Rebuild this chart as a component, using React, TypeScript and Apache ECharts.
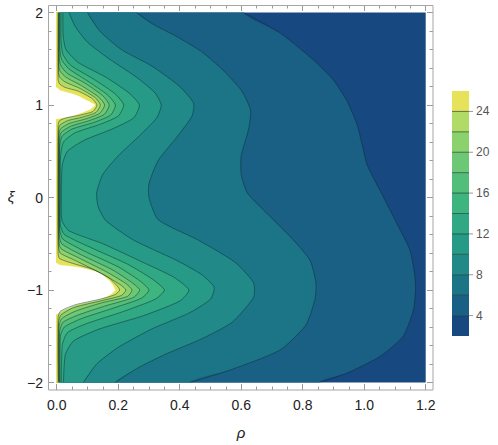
import React, { useEffect, useRef } from "react";
import * as echarts from "echarts";

// contour levels and band colours (band i lies between level i-1 and level i; band 0 = 2..4)
const levels = [4, 6, 8, 10, 12, 14, 16, 18, 20, 22, 24, 26];
const bandColors = [
  "#17487f", "#1a5f84", "#1c7587", "#218a89", "#279a87", "#30a884",
  "#3eb47f", "#52be7a", "#6cc874", "#8bd16c", "#b0db66", "#e6e35a",
];
const aboveColor = "#ffffff";
const legendTicks = [4, 8, 12, 16, 20, 24];

// contour lines as [rho, xi] points
const contour4 = [[0.607,2],[0.726,1.78],[0.834,1.49],[0.90,1.27],[0.943,1.05],[0.976,0.8],[0.995,0.55],[1.01,0.35],[1.051,0.08],[1.106,-0.28],[1.149,-0.57],[1.165,-0.85],[1.167,-1.0],[1.16,-1.22],[1.127,-1.5],[1.051,-1.72],[0.943,-1.9],[0.854,-2]];
const contour6 = [[0.26,2],[0.31,1.88],[0.39,1.74],[0.47,1.58],[0.54,1.38],[0.60,1.16],[0.63,0.95],[0.625,0.75],[0.60,0.45],[0.60,0.25],[0.62,0.05],[0.683,-0.17],[0.77,-0.46],[0.824,-0.68],[0.843,-0.92],[0.84,-1.1],[0.81,-1.38],[0.726,-1.65],[0.564,-1.865],[0.433,-2]];
const contour8 = [[0.10,2],[0.14,1.8],[0.21,1.6],[0.31,1.42],[0.40,1.2],[0.445,1.02],[0.44,0.88],[0.39,0.65],[0.33,0.4],[0.30,0.15],[0.30,0],[0.33,-0.24],[0.46,-0.46],[0.58,-0.7],[0.64,-0.92],[0.64,-1.08],[0.57,-1.35],[0.47,-1.53],[0.35,-1.7],[0.26,-1.85],[0.19,-2]];
const contour10 = [[0.04,2],[0.06,1.85],[0.1,1.68],[0.17,1.5],[0.26,1.3],[0.32,1.13],[0.34,1.0],[0.325,0.86],[0.27,0.67],[0.2,0.45],[0.15,0.25],[0.13,0.05],[0.135,-0.1],[0.16,-0.25],[0.25,-0.46],[0.39,-0.68],[0.47,-0.83],[0.512,-0.97],[0.5,-1.1],[0.43,-1.25],[0.31,-1.42],[0.2,-1.62],[0.13,-1.8],[0.087,-2]];
const contour12 = [[0.02,2],[0.021,1.75],[0.03,1.6],[0.07,1.46],[0.16,1.3],[0.235,1.13],[0.269,1.0],[0.25,0.86],[0.18,0.74],[0.09,0.62],[0.035,0.5],[0.018,0.35],[0.015,0],[0.017,-0.25],[0.04,-0.36],[0.15,-0.5],[0.28,-0.7],[0.38,-0.86],[0.43,-1.0],[0.4,-1.12],[0.28,-1.28],[0.14,-1.42],[0.055,-1.55],[0.028,-1.7],[0.022,-2]];
const contour14 = [[0.014,2],[0.014,1.7],[0.02,1.55],[0.045,1.43],[0.12,1.28],[0.19,1.12],[0.218,1.0],[0.20,0.88],[0.14,0.79],[0.06,0.7],[0.022,0.6],[0.0125,0.45],[0.0115,0],[0.012,-0.3],[0.025,-0.4],[0.11,-0.54],[0.23,-0.72],[0.31,-0.88],[0.35,-1.0],[0.32,-1.1],[0.21,-1.24],[0.10,-1.36],[0.035,-1.46],[0.018,-1.6],[0.015,-2]];
const contour16 = [[0.0105,2],[0.0105,1.6],[0.016,1.49],[0.04,1.39],[0.10,1.26],[0.165,1.11],[0.191,1.0],[0.175,0.89],[0.12,0.81],[0.05,0.74],[0.017,0.66],[0.0098,0.55],[0.0097,0],[0.0098,-0.35],[0.02,-0.45],[0.09,-0.58],[0.2,-0.75],[0.27,-0.9],[0.30,-1.0],[0.275,-1.09],[0.18,-1.2],[0.08,-1.31],[0.025,-1.4],[0.012,-1.5],[0.011,-2]];
const contour18 = [[0.0085,2],[0.0085,1.5],[0.014,1.42],[0.035,1.34],[0.09,1.24],[0.15,1.1],[0.171,1.0],[0.155,0.9],[0.105,0.83],[0.045,0.77],[0.014,0.7],[0.0083,0.6],[0.0083,-0.4],[0.016,-0.5],[0.08,-0.62],[0.18,-0.78],[0.245,-0.92],[0.27,-1.0],[0.25,-1.08],[0.16,-1.17],[0.07,-1.27],[0.02,-1.35],[0.0095,-1.45],[0.009,-2]];
const contour20 = [[0.007,2],[0.007,1.42],[0.012,1.36],[0.03,1.3],[0.08,1.21],[0.135,1.09],[0.156,1.0],[0.14,0.91],[0.095,0.85],[0.04,0.8],[0.012,0.74],[0.007,0.66],[0.007,-0.45],[0.013,-0.55],[0.07,-0.65],[0.16,-0.8],[0.225,-0.93],[0.245,-1.0],[0.23,-1.07],[0.145,-1.14],[0.06,-1.23],[0.016,-1.31],[0.0075,-1.4],[0.0075,-2]];
const contour22 = [[0.0057,2],[0.0057,1.35],[0.01,1.3],[0.027,1.25],[0.075,1.18],[0.125,1.08],[0.142,1.0],[0.128,0.92],[0.085,0.87],[0.035,0.83],[0.01,0.78],[0.0057,0.72],[0.0057,-0.52],[0.011,-0.6],[0.06,-0.68],[0.15,-0.83],[0.21,-0.95],[0.225,-1.0],[0.21,-1.06],[0.14,-1.12],[0.055,-1.19],[0.014,-1.27],[0.006,-1.35],[0.006,-2]];
const contour24 = [[0.0045,2],[0.0045,1.28],[0.009,1.23],[0.027,1.19],[0.07,1.15],[0.115,1.07],[0.131,1.0],[0.118,0.93],[0.075,0.89],[0.03,0.86],[0.009,0.83],[0.0045,0.78],[0.0045,-0.6],[0.009,-0.66],[0.05,-0.71],[0.12,-0.78],[0.17,-0.87],[0.195,-0.95],[0.205,-1.0],[0.19,-1.05],[0.14,-1.1],[0.06,-1.16],[0.012,-1.23],[0.0045,-1.3],[0.0045,-2]];
const contour26Upper = [[0,1.19],[0.01,1.16],[0.04,1.13],[0.065,1.105],[0.1,1.045],[0.124,1.0],[0.11,0.955],[0.09,0.928],[0.054,0.885],[0.02,0.862],[0,0.85]];
const contour26Lower = [[0,-0.71],[0.011,-0.73],[0.05,-0.745],[0.087,-0.765],[0.141,-0.82],[0.174,-0.91],[0.19,-1.0],[0.17,-1.06],[0.141,-1.1],[0.065,-1.16],[0.02,-1.22],[0,-1.26]];

const contourSets = [
  [contour4], [contour6], [contour8], [contour10], [contour12], [contour14],
  [contour16], [contour18], [contour20], [contour22], [contour24],
  [contour26Upper, contour26Lower],
];

const FONT = "'Liberation Sans', Arial, sans-serif";

export default function App() {
  const ref = useRef<HTMLDivElement>(null);
  useEffect(() => {
    document.body.style.margin = "0";
    const chart = echarts.init(ref.current!, null, { renderer: "svg" });
    const lineColor = "rgba(10,40,50,0.6)";

    // legend geometry
    const barX = 452, barW = 17, barTop = 91, barBottom = 336;
    const vMin = 2, vMax = 26;
    const vy = (v: number) => barBottom - ((v - vMin) / (vMax - vMin)) * (barBottom - barTop);
    const legendEls: any[] = [];
    const bounds = [vMin, ...levels.slice(0, -1), vMax];
    for (let i = 0; i < bandColors.length; i++) {
      const y1 = vy(bounds[i + 1]);
      const y0 = vy(bounds[i]);
      legendEls.push({ type: "rect", shape: { x: barX, y: y1, width: barW, height: y0 - y1 }, style: { fill: bandColors[i] } });
    }
    levels.slice(0, -1).forEach((l) => {
      legendEls.push({ type: "line", shape: { x1: barX, y1: vy(l), x2: barX + barW, y2: vy(l) }, style: { stroke: "rgba(10,40,40,0.6)", lineWidth: 1 } });
    });
    legendTicks.forEach((t) => {
      legendEls.push({ type: "line", shape: { x1: barX + barW, y1: vy(t), x2: barX + barW + 4, y2: vy(t) }, style: { stroke: "#999", lineWidth: 1 } });
      legendEls.push({ type: "text", x: barX + barW + 7, y: vy(t), style: { text: String(t), fill: "#555", fontSize: 12, fontFamily: FONT, verticalAlign: "middle", align: "left" } });
    });

    const tickStyle = { color: "#9a9a9a", width: 1 };
    const hiddenLine = { show: false, onZero: false };
    const segPoly = (seg: number[][]) => {
      const first = seg[0];
      const last = seg[seg.length - 1];
      const pre = first[1] >= 1.99 ? [[-0.2, 2.4], [first[0], 2.4]] : [[-0.2, first[1]]];
      const post = last[1] <= -1.99 ? [[last[0], -2.4], [-0.2, -2.4]] : [[-0.2, last[1]]];
      return [...pre, ...seg, ...post];
    };
    const option: any = {
      animation: false,
      grid: { left: 56.7, top: 12.5, width: 369, height: 370, show: true, backgroundColor: bandColors[0], borderWidth: 0 },
      xAxis: [
        {
          type: "value", min: 0, max: 1.2, interval: 0.2, position: "bottom", offset: 7.5,
          axisLine: hiddenLine, splitLine: { show: false },
          axisTick: { show: true, inside: true, length: 6, lineStyle: tickStyle },
          minorTick: { show: true, splitNumber: 4, length: 3.5, lineStyle: tickStyle },
          axisLabel: { color: "#222", fontSize: 14, fontFamily: FONT, margin: 8, formatter: (v: number) => v.toFixed(1) },
        },
        {
          type: "value", min: 0, max: 1.2, interval: 0.2, position: "top", offset: 7.5,
          axisLine: hiddenLine, splitLine: { show: false },
          axisTick: { show: true, inside: true, length: 6, lineStyle: tickStyle },
          minorTick: { show: true, splitNumber: 4, length: 3.5, lineStyle: tickStyle },
          axisLabel: { show: false },
        },
      ],
      yAxis: [
        {
          type: "value", min: -2, max: 2, interval: 1, position: "left", offset: 8.7,
          axisLine: hiddenLine, splitLine: { show: false },
          axisTick: { show: true, inside: true, length: 6, lineStyle: tickStyle },
          minorTick: { show: true, splitNumber: 5, length: 3.5, lineStyle: tickStyle },
          axisLabel: { color: "#222", fontSize: 14, fontFamily: FONT, margin: 5, formatter: (v: number) => (v < 0 ? "\u2212" + Math.abs(v) : String(v)) },
        },
        {
          type: "value", min: -2, max: 2, interval: 1, position: "right", offset: 7.3,
          axisLine: hiddenLine, splitLine: { show: false },
          axisTick: { show: true, inside: true, length: 6, lineStyle: tickStyle },
          minorTick: { show: true, splitNumber: 5, length: 3.5, lineStyle: tickStyle },
          axisLabel: { show: false },
        },
      ],
      series: [
        {
          type: "custom",
          coordinateSystem: "cartesian2d",
          clip: true,
          silent: true,
          z: 2,
          data: levels.map((l, i) => [i, l]),
          renderItem: (params: any, api: any) => {
            const idx = params.dataIndex;
            const fill = idx + 1 < bandColors.length ? bandColors[idx + 1] : aboveColor;
            return {
              type: "group",
              children: contourSets[idx].map((seg: number[][]) => ({
                type: "polygon",
                shape: { points: segPoly(seg).map((p) => api.coord(p)), smooth: 0.2 },
                style: { fill, stroke: fill, lineWidth: 0.3 },
              })),
            };
          },
        },
        {
          type: "custom",
          coordinateSystem: "cartesian2d",
          clip: true,
          silent: true,
          z: 3,
          data: levels.slice(0, -1).map((l, i) => [i, l]),
          renderItem: (params: any, api: any) => {
            const idx = params.dataIndex;
            return {
              type: "group",
              children: contourSets[idx].map((seg: number[][]) => ({
                type: "polyline",
                shape: { points: seg.map((p) => api.coord(p)), smooth: 0.2 },
                style: { fill: "none", stroke: lineColor, lineWidth: 0.8 },
              })),
            };
          },
        },
      ],
      graphic: [
        { type: "rect", shape: { x: 48.5, y: 5.5, width: 384.5, height: 384.5 }, style: { fill: "none", stroke: "#a6a6a6", lineWidth: 1 }, z: 10 },
        { type: "text", x: 241, y: 432, style: { text: "ρ", fill: "#222", fontSize: 15, fontStyle: "italic", fontFamily: FONT, align: "center", verticalAlign: "middle" } },
        { type: "text", x: 11, y: 196, style: { text: "ξ", fill: "#222", fontSize: 15, fontStyle: "italic", fontFamily: FONT, align: "center", verticalAlign: "middle" } },
        ...legendEls,
      ],
    };
    chart.setOption(option);
    return () => chart.dispose();
  }, []);
  return <div ref={ref} style={{ width: 498, height: 445 }} />;
}
